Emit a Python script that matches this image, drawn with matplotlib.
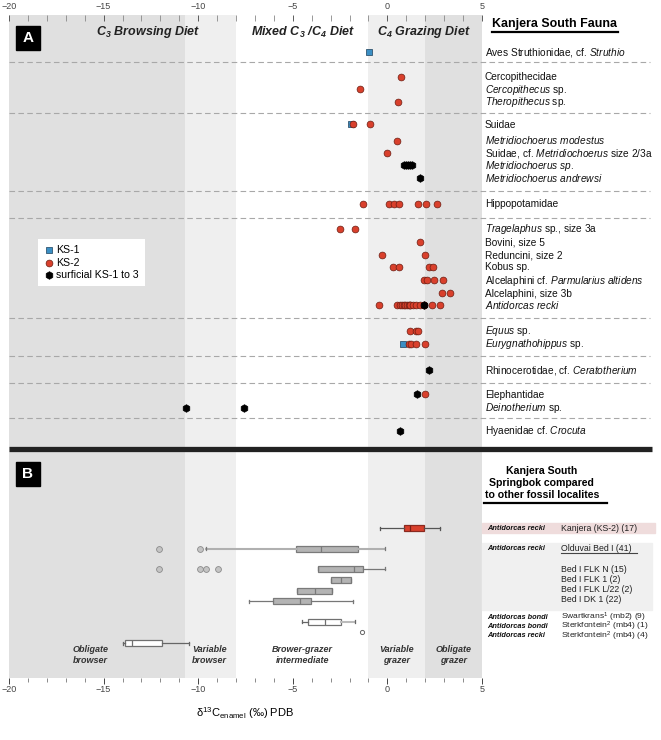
import matplotlib
matplotlib.use('Agg')
import matplotlib.pyplot as plt
from matplotlib.patches import Rectangle
from matplotlib.ticker import MultipleLocator

plt.rcParams['font.family'] = ['Liberation Sans', 'DejaVu Sans']
plt.rcParams['mathtext.fontset'] = 'custom'
plt.rcParams['mathtext.rm'] = 'Liberation Sans'
plt.rcParams['mathtext.it'] = 'Liberation Sans:italic'
plt.rcParams['mathtext.bf'] = 'Liberation Sans:bold'
plt.rcParams['mathtext.sf'] = 'Liberation Sans:italic:bold'
plt.rcParams['mathtext.default'] = 'regular'

# ---------------- data: panel A ----------------
taxa = [
    r"Aves Struthionidae, cf. $\mathit{Struthio}$",
    "Cercopithecidae",
    r"$\mathit{Cercopithecus}$ sp.",
    r"$\mathit{Theropithecus}$ sp.",
    "Suidae",
    r"$\mathit{Metridiochoerus\ modestus}$",
    r"Suidae, cf. $\mathit{Metridiochoerus}$ size 2/3a",
    r"$\mathit{Metridiochoerus\ sp.}$",
    r"$\mathit{Metridiochoerus\ andrewsi}$",
    "Hippopotamidae",
    r"$\mathit{Tragelaphus}$ sp., size 3a",
    "Bovini, size 5",
    "Reduncini, size 2",
    "Kobus sp.",
    r"Alcelaphini cf. $\mathit{Parmularius\ altidens}$",
    "Alcelaphini, size 3b",
    r"$\mathit{Antidorcas\ recki}$",
    r"$\mathit{Equus}$ sp.",
    r"$\mathit{Eurygnathohippus}$ sp.",
    r"Rhinocerotidae, cf. $\mathit{Ceratotherium}$",
    "Elephantidae",
    r"$\mathit{Deinotherium}$ sp.",
    r"Hyaenidae cf. $\mathit{Crocuta}$",
]
ks1_vals = [[-0.97], [], [], [], [-1.95], [], [], [], [], [], [], [], [], [], [], [], [],
            [], [0.83], [], [], [], []]
ks2_vals = [[], [0.72], [-1.43], [0.56], [-1.80, -0.94], [0.53], [-0.04], [], [],
            [-1.27, 0.07, 0.33, 0.61, 1.64, 2.02, 2.62],
            [-2.48, -1.69], [1.74], [-0.28, 1.97], [0.30, 0.63, 2.18, 2.41],
            [1.94, 2.08, 2.48, 2.94], [2.89, 3.33],
            [-0.42, 0.51, 0.65, 0.79, 0.88, 0.95, 1.06, 1.12, 1.20, 1.22, 1.35, 1.50,
             1.71, 1.92, 1.96, 2.34, 2.76],
            [1.20, 1.53, 1.62], [1.13, 1.27, 1.50, 2.01], [], [1.97], [], []]
surf_vals = [[], [], [], [], [], [], [], [0.88, 0.98, 1.08, 1.18, 1.30], [1.71], [],
             [], [], [], [], [], [], [1.95], [], [], [2.20], [1.58], [-10.62, -7.58], [0.69]]

# ---------------- data: panel B ----------------
b_species = ["Antidorcas recki", "Antidorcas recki", "", "", "", "",
             "Antidorcas bondi", "Antidorcas bondi", "Antidorcas recki"]
b_sites = ["Kanjera (KS-2) (17)", "Olduvai Bed I (41)", "Bed I FLK N (15)",
           "Bed I FLK 1 (2)", "Bed I FLK L/22 (2)", "Bed I DK 1 (22)",
           r"Swartkrans$^1$ (mb2) (9)", r"Sterkfontein$^2$ (mb4) (1)",
           r"Sterkfontein$^2$ (mb4) (4)"]
b_whislo = [-0.37, -9.57, -3.65, -3.00, -4.78, -7.33, -4.49, None, -13.97]
b_q1 = [0.88, -4.85, -3.65, -3.00, -4.78, -6.05, -4.19, None, -13.88]
b_med = [1.20, -3.49, -1.76, -2.45, -3.81, -4.64, -3.30, None, -13.50]
b_q3 = [1.96, -1.53, -1.29, -1.90, -2.91, -4.05, -2.43, None, -11.91]
b_whishi = [2.80, -0.13, -0.14, -1.90, -2.91, -1.80, -1.71, None, -10.50]
b_fliers = [[], [-12.07, -9.92], [-12.07, -9.92, -9.57, -8.95], [], [], [], [], [-1.32], []]

diet_zones = [(-20, -10.7), (-10.7, -8.0), (-8.0, -1.0), (-1.0, 2.0), (2.0, 5.0)]
zone_colors = ['#e0e0e0', '#efefef', '#ffffff', '#efefef', '#e0e0e0']
zone_labels = ["Obligate\nbrowser", "Variable\nbrowser", "Brower-grazer\nintermediate",
               "Variable\ngrazer", "Obligate\ngrazer"]
zone_label_x = [-15.7, -9.4, -4.5, 0.5, 3.5]

# ---------------- layout (pixel rows) ----------------
row_y = [51.7, 76.7, 89.3, 102.0, 124.5, 140.7, 152.7, 165.3, 178.3, 204.0,
         229.0, 242.3, 254.7, 266.7, 280.3, 293.3, 305.3, 331.0, 344.0, 370.0,
         394.3, 407.8, 430.7]
sep_y = [61.7, 113.3, 191.0, 218.3, 318.3, 355.7, 383.3, 417.7]
b_y = [528.3, 548.7, 569.0, 580.3, 591.0, 601.3, 622.0, 632.0, 643.3]
b_text_y = [528.3, 547.7, 569.3, 579.0, 589.3, 599.3, 616.7, 626.0, 635.3]

W, H = 661, 740
fig = plt.figure(figsize=(W / 100, H / 100), dpi=100)
top_px, bot_px, left_px, right_px = 15, 678, 9, 482
ax = fig.add_axes([left_px / W, 1 - bot_px / H, (right_px - left_px) / W, (bot_px - top_px) / H])
ax.set_xlim(-20, 5)
ax.set_ylim(bot_px, top_px)
for s in ax.spines.values():
    s.set_visible(False)
ax.set_yticks([])

# zones
for (a, b), c in zip(diet_zones, zone_colors):
    ax.axvspan(a, b, color=c, zorder=0, lw=0)
for lab, xx in zip(zone_labels, zone_label_x):
    ax.text(xx, 655, lab, ha='center', va='center', fontsize=6.5, fontweight='bold',
            style='italic', color='#333333', linespacing=1.2)

# ticks
ax.xaxis.set_major_locator(MultipleLocator(5))
ax.xaxis.set_minor_locator(MultipleLocator(1))
ax.tick_params(axis='x', which='major', direction='out', length=4.5, width=0.7,
               labelsize=6.5, pad=0.5, colors='#444444')
ax.tick_params(axis='x', which='minor', direction='out', length=3, width=0.6, colors='#777777')
ax.set_xlabel(r"$\delta^{13}$C$_{enamel}$ (‰) PDB", fontsize=8, labelpad=8)
sec = ax.secondary_xaxis('top')
sec.xaxis.set_major_locator(MultipleLocator(5))
sec.xaxis.set_minor_locator(MultipleLocator(1))
sec.tick_params(axis='x', which='major', direction='in', length=4, width=0.6,
                labelsize=6.5, pad=3, colors='#444444')
sec.tick_params(axis='x', which='minor', direction='in', length=4, width=0.6, colors='#888888')
for s in sec.spines.values():
    s.set_visible(False)

# separators
for yy in sep_y:
    ax.plot([-20, 13.86], [yy, yy], color='#a8a8a8', lw=0.8, ls=(0, (5, 3)),
            clip_on=False, zorder=1)
ax.plot([-20, 14.0], [449.5, 449.5], color='#222222', lw=3.8, clip_on=False,
        solid_capstyle='butt', zorder=3)

# panel labels
for lab, y0 in [("A", 26), ("B", 462)]:
    ax.add_patch(Rectangle((-19.61, y0), 1.23, 24.5, color='black', zorder=5))
    ax.text(-19.0, y0 + 12.5, lab, color='white', fontsize=11, fontweight='bold',
            ha='center', va='center', zorder=6)

# diet headings
ax.text(-12.62, 32.3, r"C$_\mathsf{3}$ Browsing Diet", ha='center', va='center',
        fontsize=9, fontweight='bold', style='italic', color='#222222')
ax.text(-4.47, 32.3, r"Mixed C$_\mathsf{3}$ /C$_\mathsf{4}$ Diet", ha='center', va='center',
        fontsize=9, fontweight='bold', style='italic', color='#222222')
ax.text(1.92, 32.3, r"C$_\mathsf{4}$ Grazing Diet", ha='center', va='center',
        fontsize=9, fontweight='bold', style='italic', color='#222222')

# panel A points
red, red_e = '#d9402c', '#6a1d12'
blue, blue_e = '#3b8fc4', '#1c3f5a'
first = [True, True, True]
for i, yy in enumerate(row_y):
    if ks2_vals[i]:
        ax.scatter(ks2_vals[i], [yy] * len(ks2_vals[i]), s=24, marker='o', color=red,
                   edgecolor=red_e, lw=0.5, zorder=4, label='KS-2' if first[1] else None)
        first[1] = False
    if ks1_vals[i]:
        ax.scatter(ks1_vals[i], [yy] * len(ks1_vals[i]), s=18, marker='s', color=blue,
                   edgecolor=blue_e, lw=0.5, zorder=3.5, label='KS-1' if first[0] else None)
        first[0] = False
    if surf_vals[i]:
        ax.scatter(surf_vals[i], [yy] * len(surf_vals[i]), s=30, marker='h', color='black',
                   edgecolor='black', lw=0.5, zorder=4.5,
                   label='surficial KS-1 to 3' if first[2] else None)
        first[2] = False
    ax.text(5.14, yy + 3.4, taxa[i], ha='left', va='baseline', fontsize=7.3,
            color='#111111', clip_on=False)

handles, labels = ax.get_legend_handles_labels()
order = [labels.index(n) for n in ['KS-1', 'KS-2', 'surficial KS-1 to 3']]
leg = ax.legend([handles[k] for k in order], [labels[k] for k in order],
                loc='upper left', bbox_to_anchor=(0.0607, 0.662), fontsize=7.6,
                frameon=True, fancybox=False, edgecolor='none', facecolor='white',
                framealpha=1, borderaxespad=0, handletextpad=0.2, handlelength=1.0,
                labelspacing=0.25, borderpad=0.55)
leg.set_zorder(6)

# header panel A
ax.text(8.84, 24, "Kanjera South Fauna", ha='center', va='center', fontsize=8.9,
        fontweight='bold', clip_on=False)
ax.plot([5.51, 12.17], [32.3, 32.3], color='black', lw=1.6, clip_on=False)

# panel B header
ax.text(8.16, 482.7, "Kanjera South\nSpringbok compared\nto other fossil localites",
        ha='center', va='center', fontsize=7.6, fontweight='bold', linespacing=1.25,
        clip_on=False)
ax.plot([5.09, 11.59], [503.3, 503.3], color='black', lw=1.6, clip_on=False)

# panel B backgrounds
ax.add_patch(Rectangle((5.0, 522.7), 9.13, 10.6, color='#efdcdc', clip_on=False, zorder=0))
ax.add_patch(Rectangle((5.0, 543.0), 8.97, 67.0, color='#f0f0f0', clip_on=False, zorder=0))
ax.plot([9.2, 13.19], [553.3, 553.3], color='#444444', lw=0.8, clip_on=False)

for i in range(len(b_sites)):
    if b_species[i]:
        ax.text(5.25, b_text_y[i] + 2.2, b_species[i], ha='left', va='baseline',
                fontsize=5.3, fontweight='bold', style='italic', clip_on=False,
                color='#111111')
    fs = 6.3 if i < 6 else 6.1
    ax.text(9.2, b_text_y[i] + 3.0, b_sites[i], ha='left', va='baseline', fontsize=fs,
            clip_on=False, color='#222222')

# panel B boxes
stats, pos, idx = [], [], []
for i in range(len(b_sites)):
    if b_med[i] is None:
        continue
    stats.append(dict(whislo=b_whislo[i], q1=b_q1[i], med=b_med[i], q3=b_q3[i],
                      whishi=b_whishi[i], fliers=b_fliers[i]))
    pos.append(b_y[i])
    idx.append(i)
bp = ax.bxp(stats, positions=pos, widths=6, vert=False, patch_artist=True,
            manage_ticks=False,
            flierprops=dict(marker='o', markerfacecolor='#c4c4c4', markeredgecolor='#8a8a8a',
                            markersize=4.2, markeredgewidth=0.6))
for k, i in enumerate(idx):
    box = bp['boxes'][k]
    if i == 0:
        face, edge, wc = red, '#8a2a20', '#555555'
    elif i in (6, 8):
        face, edge, wc = 'white', '#707070', '#666666'
    else:
        face, edge, wc = '#b4b4b4', '#7a7a7a', '#777777'
    box.set_facecolor(face)
    box.set_edgecolor(edge)
    box.set_linewidth(0.9)
    bp['medians'][k].set_color(edge if i != 0 else '#7a1f16')
    bp['medians'][k].set_linewidth(0.9)
    for w in bp['whiskers'][2 * k:2 * k + 2]:
        w.set_color(wc)
        w.set_linewidth(0.9)
    for c in bp['caps'][2 * k:2 * k + 2]:
        c.set_color(wc)
        c.set_linewidth(0.9)
    if i == 1:
        for w in bp['whiskers'][2 * k:2 * k + 2]:
            w.set_color('#b0b0b0')
            w.set_linewidth(1.5)
    if i == 6:
        bp['whiskers'][2 * k + 1].set_color('#bbbbbb')
        bp['whiskers'][2 * k + 1].set_linewidth(1.5)
# single Sterkfontein bondi value
ax.plot(b_fliers[7], [b_y[7]] * len(b_fliers[7]), marker='o', ls='none', markersize=3,
        markerfacecolor='white', markeredgecolor='#666666', markeredgewidth=0.7)

fig.savefig('out.png', dpi=100)
